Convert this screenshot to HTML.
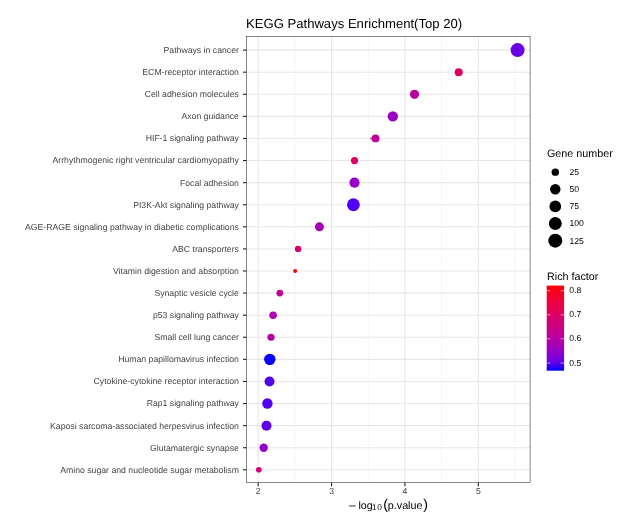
<!DOCTYPE html>
<html><head><meta charset="utf-8"><title>KEGG Pathways Enrichment</title>
<style>
html,body{margin:0;padding:0;background:#fff;}
body{width:626px;height:519px;overflow:hidden;}
svg{display:block;will-change:transform;}
text{font-family:"Liberation Sans",sans-serif;text-rendering:geometricPrecision;}
.ax{font-size:8.7px;fill:#444;}
.lg{font-size:8.65px;fill:#000;}
.lt{font-size:10.75px;fill:#000;}
</style></head><body>
<svg width="626" height="519" viewBox="0 0 626 519">
<rect width="626" height="519" fill="#fff"/>
<text x="246" y="28.0" font-size="13.1" fill="#000">KEGG Pathways Enrichment(Top 20)</text>
<g stroke="#e7e7e7" fill="none">
<line x1="294.86" x2="294.86" y1="36.5" y2="482.65" stroke-width="0.55" stroke="#ebebeb"/>
<line x1="368.25" x2="368.25" y1="36.5" y2="482.65" stroke-width="0.55" stroke="#ebebeb"/>
<line x1="441.63" x2="441.63" y1="36.5" y2="482.65" stroke-width="0.55" stroke="#ebebeb"/>
<line x1="515.03" x2="515.03" y1="36.5" y2="482.65" stroke-width="0.55" stroke="#ebebeb"/>
<line x1="258.16" x2="258.16" y1="36.5" y2="482.65" stroke-width="1.07"/>
<line x1="331.55" x2="331.55" y1="36.5" y2="482.65" stroke-width="1.07"/>
<line x1="404.94" x2="404.94" y1="36.5" y2="482.65" stroke-width="1.07"/>
<line x1="478.33" x2="478.33" y1="36.5" y2="482.65" stroke-width="1.07"/>
<line x1="246.45" x2="530.1" y1="50.10" y2="50.10" stroke-width="1.07"/>
<line x1="246.45" x2="530.1" y1="72.19" y2="72.19" stroke-width="1.07"/>
<line x1="246.45" x2="530.1" y1="94.28" y2="94.28" stroke-width="1.07"/>
<line x1="246.45" x2="530.1" y1="116.37" y2="116.37" stroke-width="1.07"/>
<line x1="246.45" x2="530.1" y1="138.46" y2="138.46" stroke-width="1.07"/>
<line x1="246.45" x2="530.1" y1="160.55" y2="160.55" stroke-width="1.07"/>
<line x1="246.45" x2="530.1" y1="182.64" y2="182.64" stroke-width="1.07"/>
<line x1="246.45" x2="530.1" y1="204.73" y2="204.73" stroke-width="1.07"/>
<line x1="246.45" x2="530.1" y1="226.82" y2="226.82" stroke-width="1.07"/>
<line x1="246.45" x2="530.1" y1="248.91" y2="248.91" stroke-width="1.07"/>
<line x1="246.45" x2="530.1" y1="271.00" y2="271.00" stroke-width="1.07"/>
<line x1="246.45" x2="530.1" y1="293.09" y2="293.09" stroke-width="1.07"/>
<line x1="246.45" x2="530.1" y1="315.18" y2="315.18" stroke-width="1.07"/>
<line x1="246.45" x2="530.1" y1="337.27" y2="337.27" stroke-width="1.07"/>
<line x1="246.45" x2="530.1" y1="359.36" y2="359.36" stroke-width="1.07"/>
<line x1="246.45" x2="530.1" y1="381.45" y2="381.45" stroke-width="1.07"/>
<line x1="246.45" x2="530.1" y1="403.54" y2="403.54" stroke-width="1.07"/>
<line x1="246.45" x2="530.1" y1="425.63" y2="425.63" stroke-width="1.07"/>
<line x1="246.45" x2="530.1" y1="447.72" y2="447.72" stroke-width="1.07"/>
<line x1="246.45" x2="530.1" y1="469.81" y2="469.81" stroke-width="1.07"/>
</g>
<circle cx="371.4" cy="138.46" r="1.3" fill="#c400a0" opacity="0.6"/>
<circle cx="517.6" cy="50.10" r="7.0" fill="#6a00e4"/>
<circle cx="458.7" cy="72.19" r="4.0" fill="#e00060"/>
<circle cx="414.5" cy="94.28" r="4.6" fill="#b800a0"/>
<circle cx="392.8" cy="116.37" r="5.2" fill="#9a00c4"/>
<circle cx="375.55" cy="138.46" r="3.9" fill="#c00094"/>
<circle cx="354.5" cy="160.55" r="3.6" fill="#dc0068"/>
<circle cx="354.5" cy="182.64" r="5.1" fill="#9800c8"/>
<circle cx="353.4" cy="204.73" r="6.4" fill="#5000f0"/>
<circle cx="319.4" cy="226.82" r="4.5" fill="#a800b4"/>
<circle cx="298.1" cy="248.91" r="3.2" fill="#d80070"/>
<circle cx="295.15" cy="271.00" r="1.95" fill="#ff0010"/>
<circle cx="279.8" cy="293.09" r="3.4" fill="#c0009c"/>
<circle cx="273.1" cy="315.18" r="3.8" fill="#b000b0"/>
<circle cx="271.0" cy="337.27" r="3.6" fill="#b800a8"/>
<circle cx="269.8" cy="359.36" r="5.7" fill="#0a00ff"/>
<circle cx="269.55" cy="381.45" r="5.0" fill="#5400f0"/>
<circle cx="267.4" cy="403.54" r="5.2" fill="#5000f4"/>
<circle cx="266.5" cy="425.63" r="5.0" fill="#6000e8"/>
<circle cx="263.7" cy="447.72" r="4.2" fill="#9400c8"/>
<circle cx="258.8" cy="469.81" r="2.8" fill="#d0007c"/>
<rect x="246.45" y="36.5" width="283.65" height="446.15" fill="none" stroke="#333" stroke-width="0.58"/>
<g stroke="#202020" stroke-width="1.1">
<line x1="243.05" x2="246.45" y1="50.10" y2="50.10"/>
<line x1="243.05" x2="246.45" y1="72.19" y2="72.19"/>
<line x1="243.05" x2="246.45" y1="94.28" y2="94.28"/>
<line x1="243.05" x2="246.45" y1="116.37" y2="116.37"/>
<line x1="243.05" x2="246.45" y1="138.46" y2="138.46"/>
<line x1="243.05" x2="246.45" y1="160.55" y2="160.55"/>
<line x1="243.05" x2="246.45" y1="182.64" y2="182.64"/>
<line x1="243.05" x2="246.45" y1="204.73" y2="204.73"/>
<line x1="243.05" x2="246.45" y1="226.82" y2="226.82"/>
<line x1="243.05" x2="246.45" y1="248.91" y2="248.91"/>
<line x1="243.05" x2="246.45" y1="271.00" y2="271.00"/>
<line x1="243.05" x2="246.45" y1="293.09" y2="293.09"/>
<line x1="243.05" x2="246.45" y1="315.18" y2="315.18"/>
<line x1="243.05" x2="246.45" y1="337.27" y2="337.27"/>
<line x1="243.05" x2="246.45" y1="359.36" y2="359.36"/>
<line x1="243.05" x2="246.45" y1="381.45" y2="381.45"/>
<line x1="243.05" x2="246.45" y1="403.54" y2="403.54"/>
<line x1="243.05" x2="246.45" y1="425.63" y2="425.63"/>
<line x1="243.05" x2="246.45" y1="447.72" y2="447.72"/>
<line x1="243.05" x2="246.45" y1="469.81" y2="469.81"/>
<line x1="258.16" x2="258.16" y1="482.65" y2="486.15"/>
<line x1="331.55" x2="331.55" y1="482.65" y2="486.15"/>
<line x1="404.94" x2="404.94" y1="482.65" y2="486.15"/>
<line x1="478.33" x2="478.33" y1="482.65" y2="486.15"/>
</g>
<text class="ax" x="238.9" y="53.00" text-anchor="end">Pathways in cancer</text>
<text class="ax" x="238.9" y="75.09" text-anchor="end">ECM-receptor interaction</text>
<text class="ax" x="238.9" y="97.18" text-anchor="end">Cell adhesion molecules</text>
<text class="ax" x="238.9" y="119.27" text-anchor="end">Axon guidance</text>
<text class="ax" x="238.9" y="141.36" text-anchor="end">HIF-1 signaling pathway</text>
<text class="ax" x="238.9" y="163.45" text-anchor="end">Arrhythmogenic right ventricular cardiomyopathy</text>
<text class="ax" x="238.9" y="185.54" text-anchor="end">Focal adhesion</text>
<text class="ax" x="238.9" y="207.63" text-anchor="end">PI3K-Akt signaling pathway</text>
<text class="ax" x="238.9" y="229.72" text-anchor="end">AGE-RAGE signaling pathway in diabetic complications</text>
<text class="ax" x="238.9" y="251.81" text-anchor="end">ABC transporters</text>
<text class="ax" x="238.9" y="273.90" text-anchor="end">Vitamin digestion and absorption</text>
<text class="ax" x="238.9" y="295.99" text-anchor="end">Synaptic vesicle cycle</text>
<text class="ax" x="238.9" y="318.08" text-anchor="end">p53 signaling pathway</text>
<text class="ax" x="238.9" y="340.17" text-anchor="end">Small cell lung cancer</text>
<text class="ax" x="238.9" y="362.26" text-anchor="end">Human papillomavirus infection</text>
<text class="ax" x="238.9" y="384.35" text-anchor="end">Cytokine-cytokine receptor interaction</text>
<text class="ax" x="238.9" y="406.44" text-anchor="end">Rap1 signaling pathway</text>
<text class="ax" x="238.9" y="428.53" text-anchor="end">Kaposi sarcoma-associated herpesvirus infection</text>
<text class="ax" x="238.9" y="450.62" text-anchor="end">Glutamatergic synapse</text>
<text class="ax" x="238.9" y="472.71" text-anchor="end">Amino sugar and nucleotide sugar metabolism</text>
<text class="ax" x="258.16" y="494.4" text-anchor="middle">2</text>
<text class="ax" x="331.55" y="494.4" text-anchor="middle">3</text>
<text class="ax" x="404.94" y="494.4" text-anchor="middle">4</text>
<text class="ax" x="478.33" y="494.4" text-anchor="middle">5</text>
<g class="lt">
<text x="349.0" y="508.9" font-size="12">–</text>
<text x="358.45" y="508.9">log</text>
<text x="372.0" y="510.4" font-size="8.3" letter-spacing="0.55">10</text>
<text x="383.2" y="509.0" font-size="14.2">(</text>
<text x="387.8" y="508.9">p.value</text>
<text x="423.3" y="509.0" font-size="14.2">)</text>
</g>
<text class="lt" x="547" y="157.2">Gene number</text>
<circle cx="555.3" cy="172.15" r="3.7" fill="#000"/>
<text class="lg" x="569.5" y="175.05">25</text>
<circle cx="555.3" cy="189.27" r="5.2" fill="#000"/>
<text class="lg" x="569.5" y="192.17">50</text>
<circle cx="555.3" cy="206.39" r="5.85" fill="#000"/>
<text class="lg" x="569.5" y="209.29">75</text>
<circle cx="555.3" cy="223.51" r="6.45" fill="#000"/>
<text class="lg" x="569.5" y="226.41">100</text>
<circle cx="555.3" cy="240.63" r="7.0" fill="#000"/>
<text class="lg" x="569.5" y="243.53">125</text>
<text class="lt" x="547" y="279.6">Rich factor</text>
<defs><linearGradient id="cb" x1="0" y1="1" x2="0" y2="0">
<stop offset="0" stop-color="#0000ff"/><stop offset="0.1" stop-color="#6800e7"/><stop offset="0.2" stop-color="#8d00ce"/>
<stop offset="0.3" stop-color="#a600b7"/><stop offset="0.4" stop-color="#ba009f"/><stop offset="0.5" stop-color="#ca0088"/>
<stop offset="0.6" stop-color="#d70072"/><stop offset="0.7" stop-color="#e3005b"/><stop offset="0.8" stop-color="#ed0044"/>
<stop offset="0.9" stop-color="#f6002a"/><stop offset="1" stop-color="#ff0000"/></linearGradient></defs>
<rect x="546.7" y="285.6" width="17.4" height="85.1" fill="url(#cb)"/>
<g stroke="#fff" stroke-width="0.55">
<line x1="546.7" x2="550.2" y1="290.7" y2="290.7"/><line x1="560.6" x2="564.1" y1="290.7" y2="290.7"/>
<line x1="546.7" x2="550.2" y1="314.8" y2="314.8"/><line x1="560.6" x2="564.1" y1="314.8" y2="314.8"/>
<line x1="546.7" x2="550.2" y1="338.8" y2="338.8"/><line x1="560.6" x2="564.1" y1="338.8" y2="338.8"/>
<line x1="546.7" x2="550.2" y1="363.1" y2="363.1"/><line x1="560.6" x2="564.1" y1="363.1" y2="363.1"/>
</g>
<text class="lg" x="569.2" y="293.25">0.8</text>
<text class="lg" x="569.2" y="317.35">0.7</text>
<text class="lg" x="569.2" y="341.35">0.6</text>
<text class="lg" x="569.2" y="365.65">0.5</text>
</svg></body></html>
